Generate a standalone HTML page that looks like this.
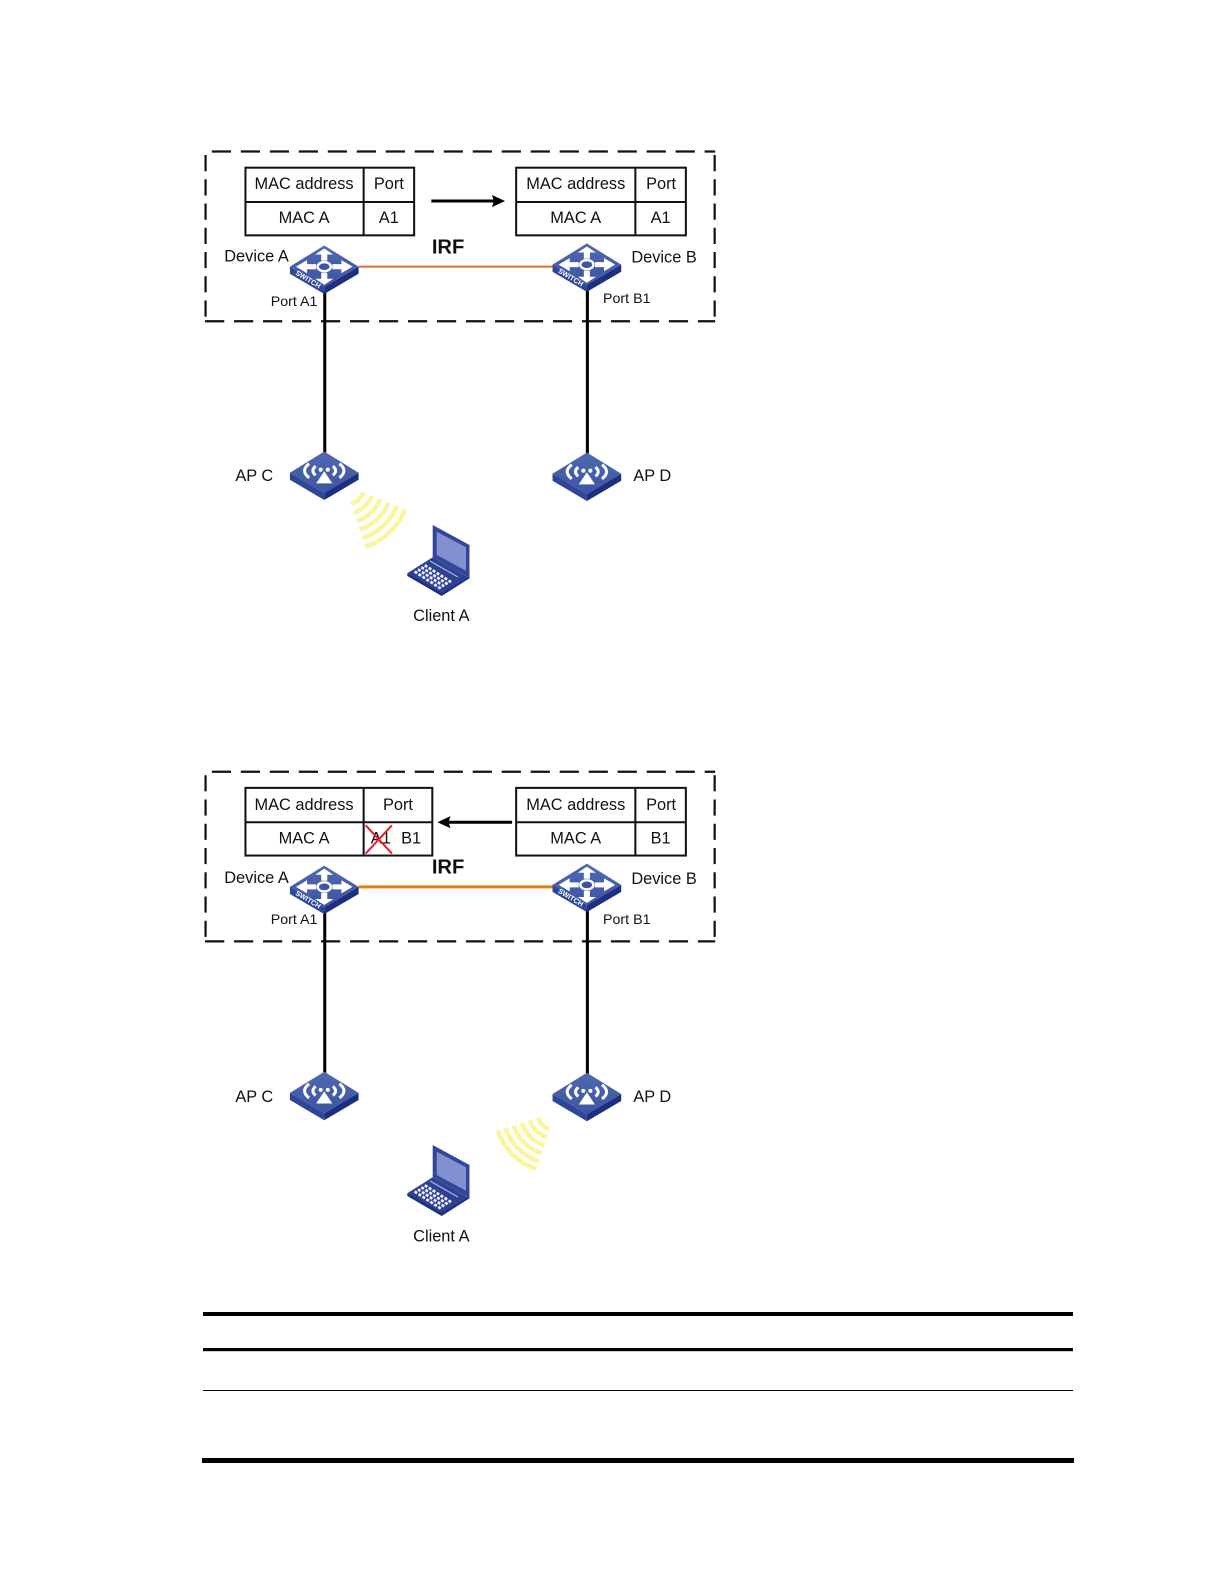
<!DOCTYPE html>
<html>
<head>
<meta charset="utf-8">
<style>
html,body{margin:0;padding:0;background:#fff}
svg{display:block}
text{font-family:"Liberation Sans",sans-serif;fill:#111}
</style>
</head>
<body>
<svg width="1224" height="1584" viewBox="0 0 1224 1584" xmlns="http://www.w3.org/2000/svg">
<defs>
<linearGradient id="top" x1="0" y1="0" x2="0" y2="1"><stop offset="0" stop-color="#5069b0"/><stop offset="1" stop-color="#3d55a2"/></linearGradient>
<g id="base">
<polygon points="-34,21 -34,28 0,48 0,41" fill="#2f4698"/>
<polygon points="34,21 34,28 0,48 0,41" fill="#1e2f80"/>
<polygon points="0,0 34,21 0,41 -34,21" fill="url(#top)"/>
</g>
<g id="sw">
<use href="#base"/>
<g fill="#fff">
<polygon points="0,3 9,9 3,9 3,15 -3,15 -3,9 -9,9"/>
<polygon points="0,39 9,33 3,33 3,27 -3,27 -3,33 -9,33"/>
<polygon points="-28,21 -17,14.5 -17,18.5 -8,18.5 -8,23.5 -17,23.5 -17,27.5"/>
<polygon points="28,21 17,14.5 17,18.5 8,18.5 8,23.5 17,23.5 17,27.5"/>
</g>
<ellipse cx="0" cy="21" rx="6.5" ry="4.5" fill="#3d55a2" stroke="#fff" stroke-width="2.4"/>
<text transform="translate(-29,28.5) rotate(31)" font-size="7" font-weight="bold" style="fill:#fff">SWITCH</text>
</g>
<g id="ap">
<use href="#base"/>
<g fill="none" stroke="#fff" stroke-width="3">
<path d="M-15,12 Q-24,19 -15,26"/>
<path d="M-8.5,14.5 Q-14,19 -8.5,23.5"/>
<path d="M15,12 Q24,19 15,26"/>
<path d="M8.5,14.5 Q14,19 8.5,23.5"/>
</g>
<circle cx="-3.5" cy="18" r="2" fill="#fff"/>
<circle cx="3.5" cy="18" r="2" fill="#fff"/>
<polygon points="0,19.5 8,31.5 -8,31.5" fill="#fff"/>
</g>
<g id="laptop">
<polygon points="407.3,573.3 432.7,557.3 469.5,578.3 441.7,595" fill="#2f4292"/>
<polygon points="432.7,525 469.5,545 469.5,578.3 432.7,557.3" fill="#33479a"/>
<polygon points="436.7,531.7 466,547.3 466,570.7 436.7,555" fill="#8390cf"/>
<polygon points="407.3,573.3 441.7,593 469.5,576.5 469.5,578.3 441.7,596 407.3,576" fill="#1f2f7d"/>
<path d="M430,561L458,577" stroke="#aab3e4" stroke-width="1.2" fill="none"/>
<g stroke="#eef0fa" stroke-width="2.7" stroke-dasharray="3 1.7" fill="none">
<path d="M414.6,571.5L441,588.7"/>
<path d="M418,569.4L444.7,586.7"/>
<path d="M421.4,567.3L448.4,584.7"/>
<path d="M424.8,565.2L452,582.7"/>
</g>
</g>
<g id="common">
<g fill="none" stroke="#111" stroke-width="2.2" stroke-dasharray="19 9.7">
<path d="M203,150H708" stroke-dashoffset="22"/>
<path d="M203,318H708"/>
</g>
<g fill="none" stroke="#111" stroke-width="2.2" stroke-dasharray="16 8">
<path d="M203.5,150V318" stroke-dashoffset="20.5"/>
<path d="M707.5,150V318" stroke-dashoffset="20.5"/>
</g>
</g>
</defs>

<g transform="scale(1.0101)">
<!-- top diagram -->
<use href="#common"/>
<path d="M355,264H548" stroke="#e0702a" stroke-width="2" fill="none"/>
<path d="M321.5,288V448M581.5,286V450" stroke="#000" stroke-width="3" fill="none"/>
<g fill="none" stroke="#111" stroke-width="2">
<rect x="243" y="166" width="167" height="67"/>
<path d="M360,166V233M243,200H410"/>
<rect x="511" y="166" width="168" height="67"/>
<path d="M629,166V233M511,200H679"/>
</g>
<g font-size="16.2" text-anchor="middle">
<text x="301" y="187">MAC address</text>
<text x="385" y="187">Port</text>
<text x="301" y="221">MAC A</text>
<text x="385" y="221">A1</text>
<text x="570" y="187">MAC address</text>
<text x="654.5" y="187">Port</text>
<text x="570" y="221">MAC A</text>
<text x="654" y="221">A1</text>
</g>
<path d="M427,199H490" stroke="#000" stroke-width="3"/>
<polygon points="500,199 487,193 489,199 487,205" fill="#000"/>
<text x="427.5" y="251" font-size="20" font-weight="bold">IRF</text>
<text x="222" y="259" font-size="16.2">Device A</text>
<text x="625" y="260" font-size="16.2">Device B</text>
<text x="268" y="303" font-size="14.1">Port A1</text>
<text x="597" y="300" font-size="14.1">Port B1</text>
<use href="#sw" x="321" y="243"/>
<use href="#sw" x="581" y="241"/>
<use href="#ap" x="321" y="447"/>
<use href="#ap" x="581" y="448"/>
<text x="233" y="476" font-size="16.2">AP C</text>
<text x="627" y="476" font-size="16.2">AP D</text>
<text x="409" y="615" font-size="16.2">Client A</text>

<!-- bottom diagram -->
<g transform="translate(0,614)"><use href="#common"/></g>
<path d="M355,878H548" stroke="#ee7d11" stroke-width="3" fill="none"/>
<path d="M321.5,902V1062M581.5,900V1064" stroke="#000" stroke-width="3" fill="none"/>
<g fill="none" stroke="#111" stroke-width="2">
<rect x="243" y="780" width="185" height="67"/>
<path d="M360,780V847M243,814H428"/>
<rect x="511" y="780" width="168" height="67"/>
<path d="M629,780V847M511,814H679"/>
</g>
<g font-size="16.2" text-anchor="middle">
<text x="301" y="802">MAC address</text>
<text x="394" y="802">Port</text>
<text x="301" y="835">MAC A</text>
<text x="377" y="835">A1</text>
<text x="407" y="835">B1</text>
<text x="570" y="802">MAC address</text>
<text x="654.5" y="802">Port</text>
<text x="570" y="835">MAC A</text>
<text x="654" y="835">B1</text>
</g>
<path d="M362,817L388,845M388,817L362,845" stroke="#e2202c" stroke-width="2" fill="none"/>
<path d="M507,814H443" stroke="#000" stroke-width="3"/>
<polygon points="433,814 446,808 444,814 446,820" fill="#000"/>
<text x="427.5" y="865" font-size="20" font-weight="bold">IRF</text>
<text x="222" y="874" font-size="16.2">Device A</text>
<text x="625" y="875" font-size="16.2">Device B</text>
<text x="268" y="915" font-size="14.1">Port A1</text>
<text x="597" y="915" font-size="14.1">Port B1</text>
<use href="#sw" x="321" y="857"/>
<use href="#sw" x="581" y="855"/>
<use href="#ap" x="321" y="1061"/>
<use href="#ap" x="581" y="1062"/>
<text x="233" y="1091" font-size="16.2">AP C</text>
<text x="627" y="1091" font-size="16.2">AP D</text>
<text x="409" y="1229" font-size="16.2">Client A</text>
</g>

<!-- waves and laptops in true coordinates -->
<g fill="none" stroke="#fbf4a0" stroke-width="4.6">
<path d="M351.2,504A20,20 0 0 0 363.5,492.5"/>
<path d="M354,512.6A29,29 0 0 0 371.9,495.9"/>
<path d="M356.7,521.1A38,38 0 0 0 380.2,499.3"/>
<path d="M359.5,529.7A47,47 0 0 0 388.6,502.6"/>
<path d="M362.3,538.3A56,56 0 0 0 396.9,506"/>
<path d="M365.1,546.8A65,65 0 0 0 405.3,509.4"/>
<path d="M537.9,1117.6A18,18 0 0 0 549.4,1129.1"/>
<path d="M529.8,1120.2A26.5,26.5 0 0 0 546.8,1137.2"/>
<path d="M521.7,1122.8A35,35 0 0 0 544.2,1145.3"/>
<path d="M513.6,1125.4A43.5,43.5 0 0 0 541.6,1153.4"/>
<path d="M505.5,1128.1A52,52 0 0 0 538.9,1161.5"/>
<path d="M497.9,1130.5A60,60 0 0 0 536.5,1169.1"/>
</g>
<use href="#laptop"/>
<use href="#laptop" y="620"/>

<!-- rules -->
<rect x="203" y="1312" width="870" height="4" fill="#000"/>
<rect x="203" y="1348" width="870" height="3.2" fill="#000"/>
<rect x="203" y="1390" width="870" height="1" fill="#000"/>
<rect x="202" y="1458" width="872" height="5" fill="#000"/>
</svg>
</body>
</html>
